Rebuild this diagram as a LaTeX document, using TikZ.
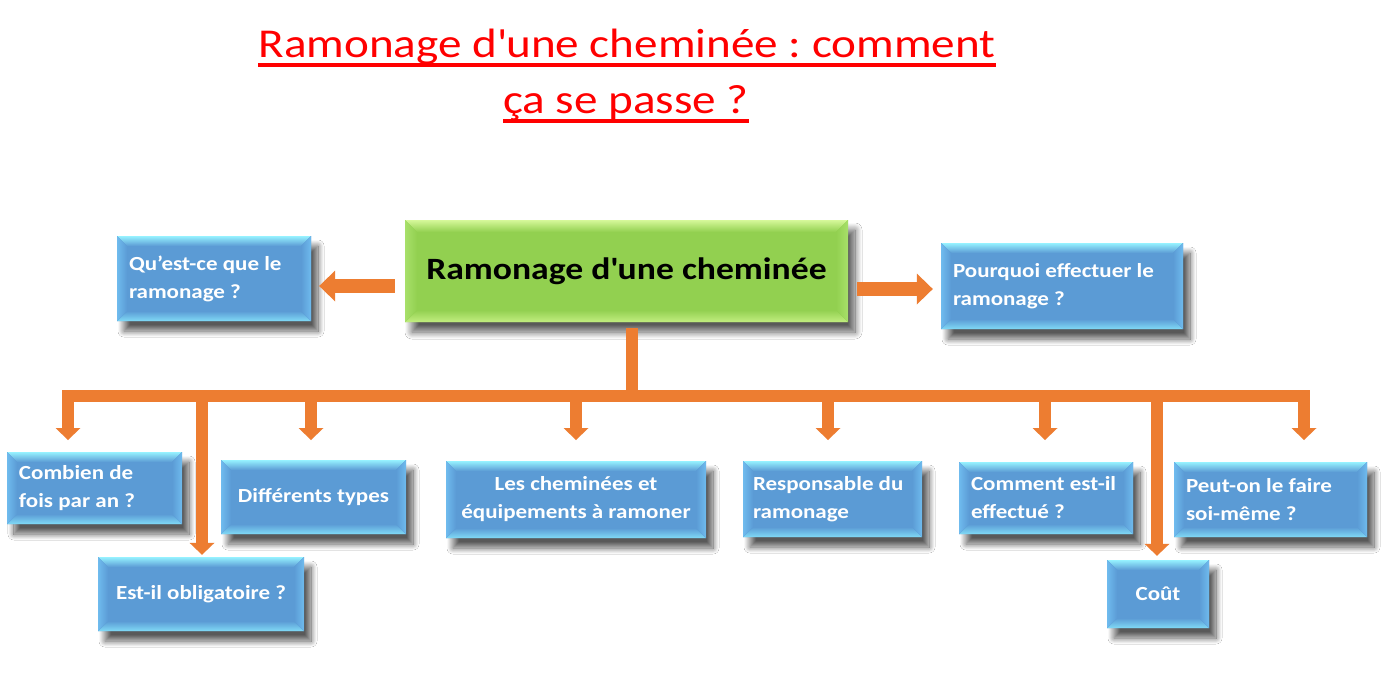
\documentclass[tikz,border=0pt]{standalone}
\usepackage{fontspec}
\setmainfont{Carlito}[FakeStretch=1.15]
\usepackage{tikz}
\usetikzlibrary{arrows.meta,calc,shadows.blur}
\definecolor{boxblue}{HTML}{5B9BD5}
\definecolor{bluehi}{HTML}{96F2FF}
\definecolor{blueside}{HTML}{6FBBEE}
\definecolor{bluelo}{HTML}{80DAF6}
\definecolor{boxgreen}{HTML}{92D050}
\definecolor{greenhi}{HTML}{D6F89A}
\definecolor{greenside}{HTML}{A8E06A}
\definecolor{greenlo}{HTML}{C2EE80}
\definecolor{linkorange}{HTML}{ED7D31}
\definecolor{titlered}{HTML}{FF0000}

\tikzset{
  bevel/.style n args={5}{path picture={
      \path (path picture bounding box.north west) coordinate (bnw)
            (path picture bounding box.north east) coordinate (bne)
            (path picture bounding box.south east) coordinate (bse)
            (path picture bounding box.south west) coordinate (bsw);
      \fill[#1] (bnw) -- (bne) -- ([shift={(-#5,-#5)}]bne) -- ([shift={(#5,-#5)}]bnw) -- cycle;
      \fill[#2] (bsw) -- (bse) -- ([shift={(-#5,#5)}]bse) -- ([shift={(#5,#5)}]bsw) -- cycle;
      \fill[#3] (bnw) -- (bsw) -- ([shift={(#5,#5)}]bsw) -- ([shift={(#5,-#5)}]bnw) -- cycle;
      \fill[#4] (bne) -- (bse) -- ([shift={(-#5,#5)}]bse) -- ([shift={(-#5,-#5)}]bne) -- cycle;
  }},
}

\begin{document}
\frenchspacing
\begin{tikzpicture}[x=1pt, y=-1pt,
    titleline/.style={text=titlered, font={\fontsize{41}{50}\selectfont}, inner sep=0pt, anchor=base},
    uline/.style={draw=titlered, line width=3.5pt},
    mainbox/.style={fill=boxgreen, font={\fontsize{31}{36}\selectfont\bfseries}, minimum width=443pt, minimum height=102pt,
      blur shadow={shadow xshift=7pt, shadow yshift=-10pt, shadow blur radius=7pt, shadow opacity=65, shadow blur steps=20},
      bevel={top color=greenhi, bottom color=boxgreen}{top color=boxgreen, bottom color=greenlo}%
            {left color=greenside, right color=boxgreen}{left color=boxgreen, right color=greenside}{12pt}},
    qbox/.style 2 args={fill=boxblue, text=white, font={\fontsize{20}{28}\selectfont\bfseries}, text width=#1, minimum height=#2,
      inner xsep=12pt, inner ysep=0pt,
      blur shadow={shadow xshift=7pt, shadow yshift=-10pt, shadow blur radius=6pt, shadow opacity=65, shadow blur steps=20},
      bevel={top color=bluehi, bottom color=boxblue}{top color=boxblue, bottom color=bluelo}%
            {left color=blueside, right color=boxblue}{left color=boxblue, right color=blueside}{10pt}},
    bigarrow/.style={draw=linkorange, line width=14pt, -{Triangle[length=16pt, width=31pt, line width=0pt]}},
    drop/.style={draw=linkorange, line width=12pt, -{Triangle[length=12pt, width=25pt, line width=0pt]}},
  ]
  \useasboundingbox[fill=white] (0,0) rectangle (1395,689);

  % title
  \node[titleline] (title1) at (627,57) {Ramonage d\textquotesingle une cheminée : comment};
  \node[titleline] (title2) at (626,113) {ça se passe ?};
  \draw[uline] ([yshift=-8pt]title1.base west) -- ([yshift=-8pt]title1.base east);
  \draw[uline] ([yshift=-8pt]title2.base west) -- ([yshift=-8pt]title2.base east);

  % boxes
  \node[mainbox] (main) at (626.5,271) {Ramonage d\textquotesingle une cheminée};
  \node[qbox={170pt}{85pt}, align=flush left] (what) at (214,278.5) {Qu’est-ce que le\\ramonage ?};
  \node[qbox={218pt}{86pt}, align=flush left] (why) at (1062,286) {Pourquoi effectuer le\\ramonage ?};
  \node[qbox={151pt}{72pt}, align=flush left] (often) at (94.5,488) {Combien de\\fois par an ?};
  \node[qbox={161pt}{74pt}, align=flush center] (types) at (313.5,497) {Différents types};
  \node[qbox={252pt}{77pt}, align=flush center, inner xsep=4pt] (which) at (576,499.5) {Les cheminées et\\équipements à ramoner};
  \node[qbox={159pt}{76pt}, align=flush left, inner xsep=10pt] (who) at (832.5,499) {Responsable du\\ramonage};
  \node[qbox={150pt}{72pt}, align=flush left] (how) at (1046,498) {Comment est-il\\effectué ?};
  \node[qbox={169pt}{75pt}, align=flush left] (diy) at (1270.5,499.5) {Peut-on le faire\\soi-même ?};
  \node[qbox={182pt}{74pt}, align=flush center] (must) at (201,594) {Est-il obligatoire ?};
  \node[qbox={78pt}{68pt}, align=flush center] (cost) at (1158,594) {Coût};

  % side arrows
  \coordinate (leftarrow) at ($(main.west)+(0,15)$);
  \coordinate (rightarrow) at ($(main.east)+(0,18)$);
  \draw[bigarrow, shorten <=10pt, shorten >=8pt] (leftarrow) -- (leftarrow -| what.east);
  \draw[bigarrow, shorten <=9pt, shorten >=8pt] (rightarrow) -- (rightarrow -| why.west);

  % tree
  \coordinate (hub) at ($(main.south)+(5.5,74)$);
  \coordinate (tips) at (0,440);
  \draw[draw=linkorange, line width=12pt] (hub |- main.south) ++(0,6) -- (hub);
  \foreach \t/\dx in {often/-26.5, types/-2.5, which/0, who/-4.5, how/-1, diy/33.5}
    \draw[drop] (hub) -| ($(\t.north |- tips)+(\dx,0)$);
  \draw[drop] (hub) -| ($(must.north)+(1,-2)$);
  \draw[drop] (hub) -| ($(cost.north)+(-1,-4)$);
\end{tikzpicture}
\end{document}
